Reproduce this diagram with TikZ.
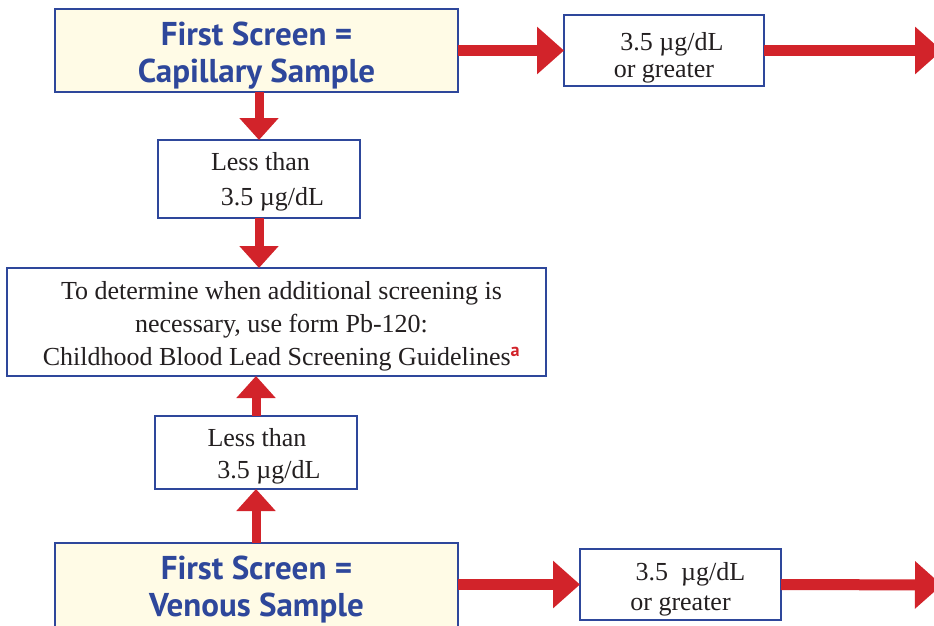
\documentclass[tikz,border=0pt]{standalone}
\usepackage{fontspec}
\setmainfont{Liberation Serif}
\newfontfamily\hdfont{PT Sans}
\usetikzlibrary{arrows.meta}
\definecolor{bbord}{HTML}{2E479B}
\definecolor{rarrow}{HTML}{D2232A}
\definecolor{cream}{HTML}{FFFBE6}
\definecolor{txt}{HTML}{231F20}
\tikzset{
  box/.style={draw=bbord, line width=2.6pt, fill=white, inner sep=0pt, outer sep=0pt},
  headbox/.style={box, fill=cream},
  lbl/.style={align=center, text=txt, inner sep=0pt, font=\fontsize{26}{33}\selectfont},
  hlbl/.style={align=center, text=bbord, inner sep=0pt, font=\hdfont\bfseries\fontsize{33}{37}\selectfont},
  harrow/.style={draw=rarrow, line width=11pt, -{Triangle[width=46pt,length=27pt]}},
  varrow/.style={draw=rarrow, line width=9pt, -{Triangle[width=38pt,length=22pt]}},
}
\begin{document}
\begin{tikzpicture}[x=1pt,y=-1pt]
\useasboundingbox (0,0) rectangle (934,626);
\node[headbox, minimum width=403pt, minimum height=83pt,
  label={[hlbl, yshift=-5.5pt]center:{First Screen =\\Capillary Sample}}] (cap) at (256.5,50.5) {};
\node[box, minimum width=200pt, minimum height=71pt,
  label={[lbl, font=\fontsize{26}{27}\selectfont, yshift=-7pt]center:{\hspace*{16pt}3.5 µg/dL\\or greater}}] (ge1) at (664,50.5) {};
\node[box, minimum width=202pt, minimum height=78pt,
  label={[lbl, font=\fontsize{26}{35}\selectfont, yshift=-3pt, xshift=1.5pt]center:{Less than\\\hspace*{24pt}3.5 µg/dL}}] (lt1) at (259,179) {};
\node[box, minimum width=539pt, minimum height=108pt,
  label={[lbl, yshift=-4.5pt, xshift=5pt]center:{To determine when additional screening is\\necessary, use form Pb-120:\\Childhood Blood Lead Screening Guidelines\textsuperscript{\hdfont\bfseries\color{rarrow}a}}}] (guide) at (276.5,322) {};
\node[box, minimum width=202pt, minimum height=73pt,
  label={[lbl, font=\fontsize{26}{32}\selectfont, yshift=-4pt, xshift=1pt]center:{Less than\\\hspace*{24pt}3.5 µg/dL}}] (lt2) at (256,452.5) {};
\node[headbox, minimum width=403pt, minimum height=87pt,
  label={[hlbl, yshift=-3.5pt]center:{First Screen =\\Venous Sample}}] (ven) at (256.5,586.5) {};
\node[box, minimum width=201pt, minimum height=71pt,
  label={[lbl, font=\fontsize{26}{30}\selectfont, yshift=-5pt]center:{\hspace*{20pt}3.5\ \ µg/dL\\or greater}}] (ge2) at (680.5,584.5) {};
\coordinate (out1) at (942,50.5);
\coordinate (out2) at (942,585);
\draw[harrow] (cap.east |- ge1.west) -- (ge1.west);
\draw[harrow] (ge1.east) -- (out1);
\draw[varrow] (lt1.north |- cap.south) -- (lt1.north);
\draw[varrow] (lt1.south) -- (lt1.south |- guide.north);
\draw[varrow] (lt2.north) -- (lt2.north |- guide.south);
\draw[varrow] (lt2.south |- ven.north) -- (lt2.south);
\draw[harrow] (ven.east |- ge2.west) -- (ge2.west);
\draw[harrow] (ge2.east) -- (out2);
\end{tikzpicture}
\end{document}
